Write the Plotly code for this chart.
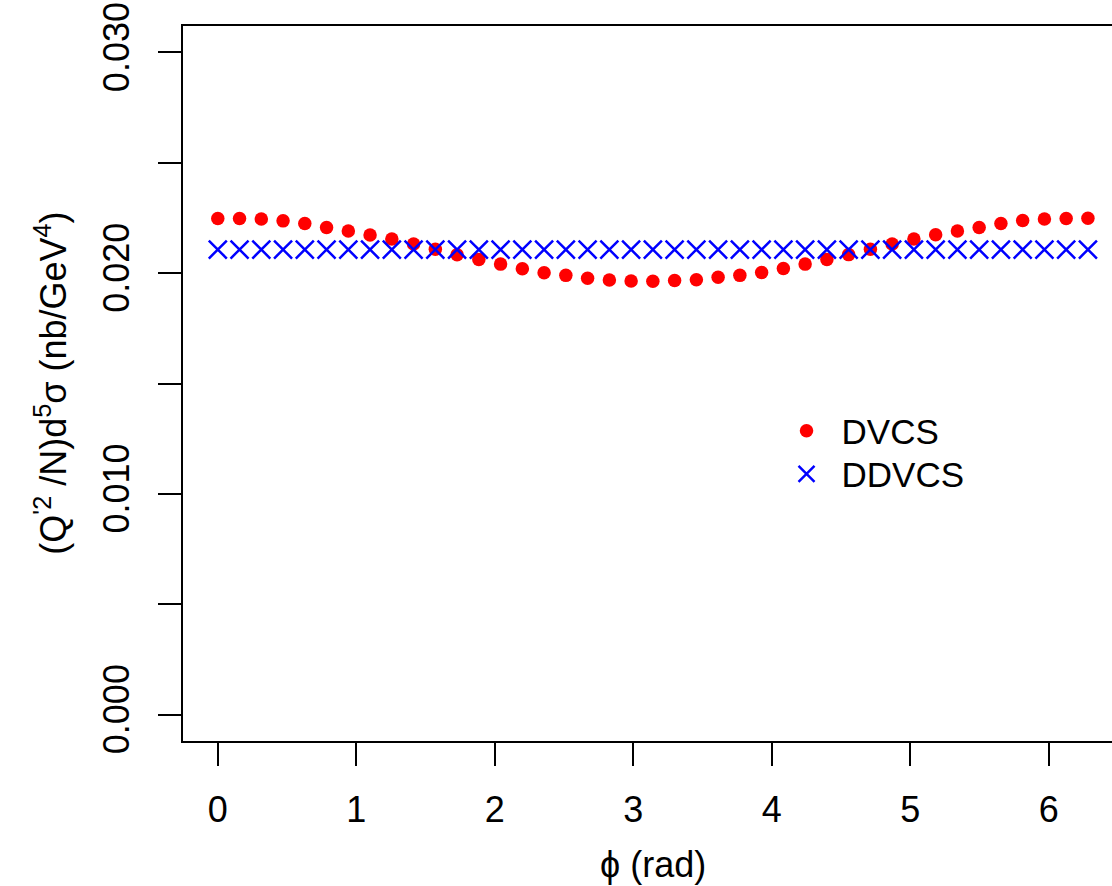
import numpy as np
import plotly.graph_objects as go

# azimuthal angle grid, 41 points over one full turn
n_points = 41
phi = np.linspace(0.0, 2.0 * np.pi, n_points)

# five-fold differential cross section (nb/GeV^4)
dvcs = [0.02248, 0.02248, 0.02245, 0.02237, 0.02225, 0.02207, 0.02191, 0.02173,
        0.02155, 0.02132, 0.02108, 0.02083, 0.02062, 0.02041, 0.02020, 0.02002,
        0.01990, 0.01977, 0.01969, 0.01964, 0.01963, 0.01967, 0.01970, 0.01981,
        0.01990, 0.02003, 0.02021, 0.02041, 0.02062, 0.02084, 0.02108, 0.02132,
        0.02155, 0.02174, 0.02191, 0.02207, 0.02225, 0.02239, 0.02245, 0.02248,
        0.02249]
ddvcs = [0.02107] * n_points

x_ticks = [0, 1, 2, 3, 4, 5, 6]
y_ticks = [0.000, 0.010, 0.020, 0.030]
y_ticktext = ["0.000", "0.010", "0.020", "0.030"]
y_minor_step = 0.005

FONT = "Liberation Sans, Arial, Helvetica, sans-serif"
fs = 36

fig = go.Figure()
fig.add_trace(go.Scatter(
    x=phi, y=dvcs, mode="markers", name="DVCS", legend="legend", showlegend=True,
    marker=dict(symbol="circle", size=13.5, color="#FF0000", line=dict(width=0)),
))
fig.add_trace(go.Scatter(
    x=phi, y=ddvcs, mode="markers", name="DDVCS", legend="legend2", showlegend=True,
    marker=dict(symbol="x-thin", size=18, color="#0000FF",
                line=dict(width=2.5, color="#0000FF")),
))

axis_common = dict(
    showgrid=False, zeroline=False, showline=True, linecolor="black", linewidth=2,
    ticks="outside", ticklen=23, tickwidth=2, tickcolor="black",
    tickfont=dict(family=FONT, size=fs, color="black"),
)

legend_style = dict(xanchor="left", yanchor="middle", bgcolor="rgba(0,0,0,0)",
                    itemwidth=60, visible=True,
                    font=dict(family=FONT, size=35, color="black"))

fig.update_layout(
    width=1112, height=886,
    showlegend=True,
    margin=dict(l=183, r=0, t=26, b=145, pad=0),
    paper_bgcolor="white", plot_bgcolor="white",
    font=dict(family=FONT, size=fs, color="black"),
    xaxis=dict(range=[-0.2513, 6.457], tickvals=x_ticks, mirror=True,
               ticklabelstandoff=13, **axis_common),
    yaxis=dict(range=[-0.0012, 0.0312], tickvals=y_ticks, ticktext=y_ticktext,
               tickangle=-90, ticklabelstandoff=15,
               minor=dict(tick0=0, dtick=y_minor_step, ticks="outside", ticklen=23,
                          tickwidth=2, tickcolor="black", showgrid=False),
               **axis_common),
    legend=dict(x=0.6335, y=0.4336, **legend_style),
    legend2=dict(x=0.6335, y=0.3734, **legend_style),
    annotations=[
        dict(text="ϕ (rad)", x=np.pi, y=-0.1734, xref="x", yref="paper",
             xanchor="center", yanchor="middle", showarrow=False,
             font=dict(family=FONT, size=fs, color="black")),
        dict(text="(Q<sup>'2</sup> /N)d<sup>5</sup>σ (nb/GeV<sup>4</sup>)",
             x=-0.143, y=0.5, xref="paper", yref="paper", textangle=-90,
             xanchor="center", yanchor="middle", showarrow=False,
             font=dict(family=FONT, size=fs, color="black")),
    ],
)

fig.write_html("out.html")
